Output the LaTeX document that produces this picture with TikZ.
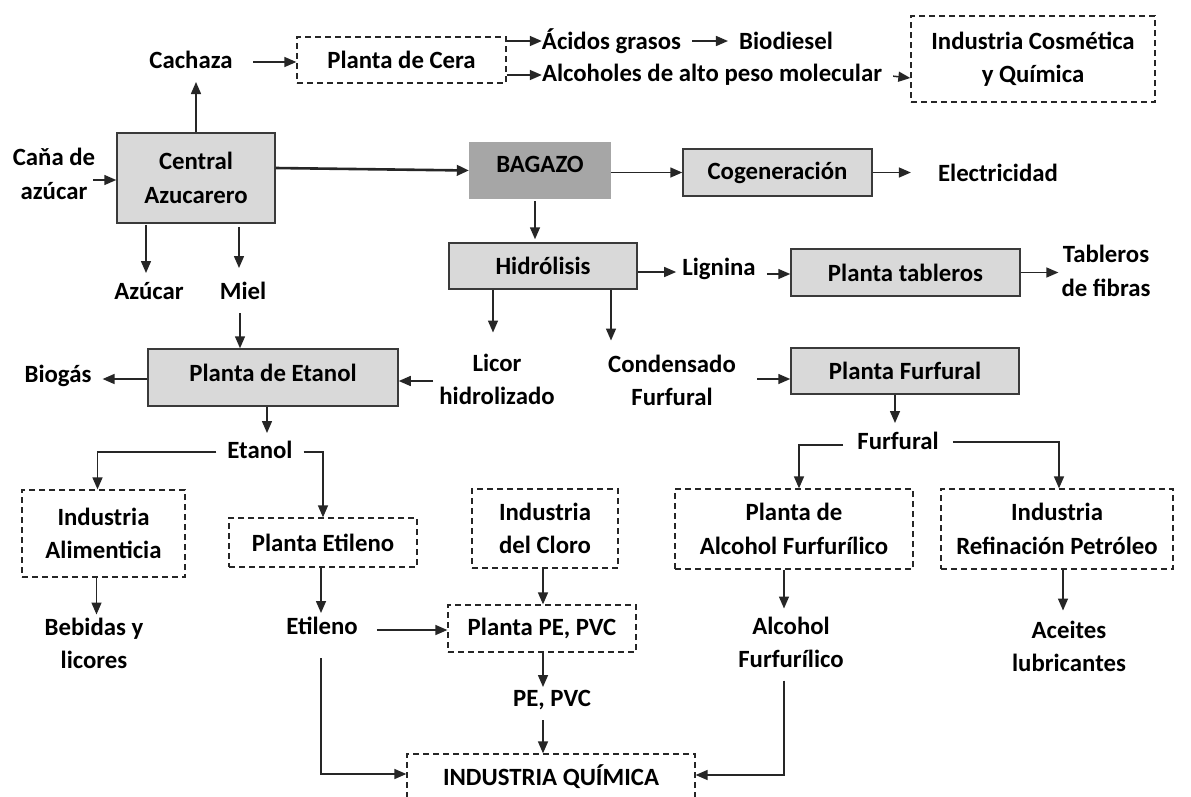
\documentclass[tikz,border=0pt]{standalone}
\usepackage{fontspec}
\setmainfont{Carlito}
\usetikzlibrary{arrows.meta,calc,positioning}
\definecolor{boxgray}{HTML}{D9D9D9}
\definecolor{baggray}{HTML}{A6A6A6}
\definecolor{edgegray}{HTML}{3A3A3A}
\tikzset{
  every node/.style={font=\fontsize{24.8}{33.5}\selectfont\bfseries, align=center, inner sep=0pt},
  gbox/.style={draw=edgegray, fill=boxgray, line width=1.5pt},
  bbox/.style={fill=baggray},
  dbox/.style={draw=black!85, line width=1.3pt, dash pattern=on 6pt off 4pt},
  lbl/.style={},
  arr/.style={draw=black!85, line width=1.5pt, -{Triangle[length=12pt,width=10pt]}},
  thickarr/.style={draw=black!85, line width=2.6pt, -{Triangle[length=12pt,width=10.5pt]}},
}
\begin{document}
\begin{tikzpicture}[x=1pt,y=-1pt]
\useasboundingbox[fill=white] (0,0) rectangle (1191,796);

% ---- boxes ----
\node[dbox, minimum width=209pt, minimum height=46pt] (cera) at (401.5,60) {Planta de Cera};
\node[dbox, minimum width=244pt, minimum height=86pt] (cosm) at (1033,59) {Industria Cosmética\\y Química};
\node[gbox, minimum width=158pt, minimum height=90pt] (central) at (196,178) {Central\\Azucarero};
\node[bbox, minimum width=142pt, minimum height=57pt] (bagazo) at (540,170.5) {};
\node (bagtxt) at (540,164) {BAGAZO};
\node[gbox, minimum width=189pt, minimum height=47pt] (cogen) at (777.5,172.5) {Cogeneración};
\node[gbox, minimum width=188pt, minimum height=46pt] (hidro) at (543,266) {Hidrólisis};
\node[gbox, minimum width=229pt, minimum height=47pt] (tabl) at (905.5,272.5) {Planta tableros};
\node[gbox, minimum width=250pt, minimum height=57pt] (etanolp) at (273,377.5) {};
\node (etanolptxt) at (273,373) {Planta de Etanol};
\node[gbox, minimum width=228pt, minimum height=46pt] (furfp) at (905,371) {Planta Furfural};
\node[dbox, minimum width=163pt, minimum height=87pt] (alim) at (103.5,533.5) {Industria\\Alimenticia};
\node[dbox, minimum width=188pt, minimum height=49pt] (etil) at (323,542.5) {Planta Etileno};
\node[dbox, minimum width=146pt, minimum height=79pt] (cloro) at (545,528.5) {Industria\\del Cloro};
\node[dbox, minimum width=188pt, minimum height=47pt] (pepvc) at (542,628.5) {Planta PE, PVC};
\node[dbox, minimum width=238pt, minimum height=80pt] (alcf) at (794,529) {Planta de\\Alcohol Furfurílico};
\node[dbox, minimum width=232pt, minimum height=80pt] (refin) at (1057,529) {Industria\\Refinación Petróleo};
\node[dbox, minimum width=288pt, minimum height=46pt] (quim) at (551,777) {INDUSTRIA QUÍMICA};

% ---- labels ----
\node[lbl] (cach) at (191,60) {Cachaza};
\node[lbl] (cana) at (54,174) {Caňa de\\azúcar};
\node[lbl] (acidos) at (611.5,41) {Ácidos grasos};
\node[lbl] (biod) at (786,41) {Biodiesel};
\node[lbl] (alcoh) at (712,75) {Alcoholes de alto peso molecular};
\node[lbl] (elec) at (998,173) {Electricidad};
\node[lbl] (azuc) at (149,291) {Azúcar};
\node[lbl] (miel) at (243,291) {Miel};
\node[lbl] (lign) at (719,269) {Lignina};
\node[lbl] (tabf) at (1106,271) {Tableros\\de fibras};
\node[lbl] (biog) at (58,376) {Biogás};
\node[lbl] (licor) at (497,379.5) {Licor\\hidrolizado};
\node[lbl] (cond) at (672,380.5) {Condensado\\Furfural};
\node[lbl] (etanol) at (260,450) {Etanol};
\node[lbl] (furf) at (898,441) {Furfural};
\node[lbl] (bebidas) at (94,643.5) {Bebidas y\\licores};
\node[lbl] (etileno) at (322,626) {Etileno};
\node[lbl] (pepvct) at (552,700) {PE, PVC};
\node[lbl] (alcohol) at (791,642.5) {Alcohol\\Furfurílico};
\node[lbl] (aceites) at (1069,646.5) {Aceites\\lubricantes};

% ---- connectors ----
\draw[arr] (central.north) -- ($(central.north |- cach.center)+(0,22)$);
\draw[arr] ($(cach.center)+(62,2)$) -- ($(cera.west)+(0,2)$);
\draw[arr] (cera.east |- acidos.center) -- (acidos.west);
\draw[arr] (cera.east |- alcoh.west) -- (alcoh.west);
\draw[arr, shorten <=11pt, shorten >=11pt] (acidos.east) -- (biod.west);
\draw[arr, shorten <=11pt] (alcoh.east) -- ($(cosm.west |- alcoh.east)+(0,3)$);
\draw[arr] ($(central.west)+(-23,2)$) -- ($(central.west)+(0,2)$);
\draw[thickarr] ($(central.east)+(0,-10)$) -- (bagazo.west);
\draw[arr] (bagazo.east |- cogen.west) -- (cogen.west);
\draw[arr] (cogen.east) -- ($(cogen.east -| elec.west)+(-27,0)$);
\draw[arr] ($(bagazo.south)+(-5,2)$) -- ($(bagazo.south |- hidro.north)+(-5,-3)$);
\draw[arr] ($(central.south)+(-50,1)$) -- ($(central.south |- azuc.center)+(-50,-18)$);
\draw[arr] ($(central.south)+(43,3)$) -- ($(central.south |- miel.center)+(43,-23)$);
\draw[arr] ($(miel.center)+(-3,22)$) -- ($(miel.center |- etanolp.north)+(-3,0)$);
\draw[arr] ($(etanolp.west)+(0,1.5)$) -- ($(biog.east |- etanolp.west)+(11,1.5)$);
\draw[arr] ($(licor.west |- etanolp.east)+(-6,3.5)$) -- ($(etanolp.east)+(0,3.5)$);
\draw[arr] ($(hidro.south)+(-50,0)$) -- ($(hidro.south |- licor.center)+(-50,-47)$);
\draw[arr] ($(hidro.south)+(68,0)$) -- ($(hidro.south |- cond.center)+(68,-40)$);
\draw[arr] ($(cond.east |- furfp.west)+(21,8)$) -- ($(furfp.west)+(0,8)$);
\draw[arr] ($(hidro.east)+(0,6)$) -- ($(lign.west |- hidro.east)+(-6,6)$);
\draw[arr] ($(lign.east |- tabl.west)+(11,1.5)$) -- ($(tabl.west)+(0,1.5)$);
\draw[arr, shorten >=3pt] (tabl.east) -- (tabl.east -| tabf.west);
\draw[arr] ($(etanolp.south)+(-6,0)$) -- ($(etanolp.south |- etanol.center)+(-6,-17)$);
\draw[arr] ($(etanol.west)+(-11,2)$) -| ($(alim.north)+(-6,0)$);
\draw[arr] ($(etanol.east)+(11,2)$) -| (etil.north);
\draw[arr] ($(alim.south)+(-7,0)$) -- ($(alim.south |- bebidas.center)+(-7,-29)$);
\draw[arr] ($(etil.south)+(-2,0)$) -- ($(etil.south |- etileno.center)+(-2,-13)$);
\draw[arr] ($(etileno.east |- pepvc.west)+(19,1.5)$) -- ($(pepvc.west)+(0,1.5)$);
\draw[arr] ($(cloro.south)+(-2,0)$) -- ($(cloro.south |- pepvc.north)+(-2,0)$);
\draw[arr] ($(pepvc.south)+(1,0)$) -- ($(pepvc.south |- pepvct.center)+(1,-13)$);
\draw[arr] ($(pepvc.south |- pepvct.center)+(1,20)$) -- ($(pepvc.south |- quim.north)+(1,0)$);
\draw[arr] ($(etileno.center)+(-1,32)$) |- ($(quim.west)+(0,-3)$);
\draw[arr] ($(alcohol.center)+(-7,38)$) |- ($(quim.east)+(0,-2)$);
\draw[arr] ($(furfp.south)+(-10,0)$) -- ($(furfp.south |- furf.center)+(-10,-18)$);
\draw[arr] ($(furf.west)+(-14,4)$) -| ($(alcf.north)+(5,0)$);
\draw[arr] ($(furf.east)+(14,1)$) -| ($(refin.north)+(2,0)$);
\draw[arr] ($(alcf.south)+(-10,0)$) -- ($(alcf.south |- alcohol.center)+(-10,-34)$);
\draw[arr] ($(refin.south)+(6,0)$) -- ($(refin.south |- aceites.center)+(6,-36)$);
\end{tikzpicture}
\end{document}
